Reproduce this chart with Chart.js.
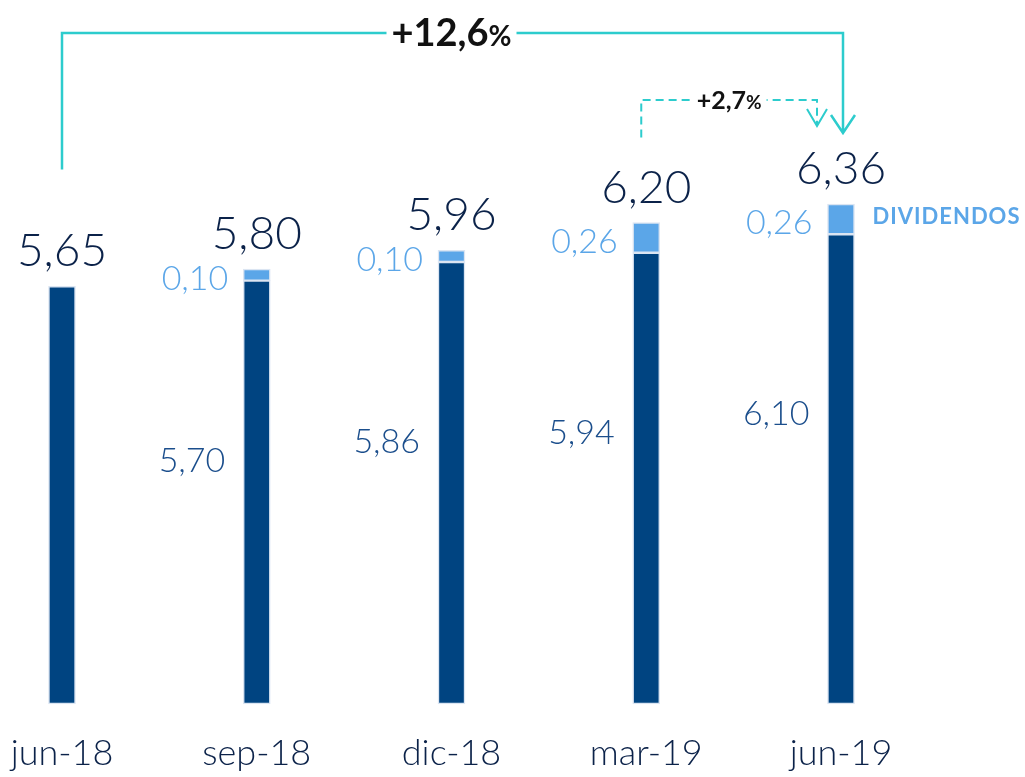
<!DOCTYPE html>
<html>
<head>
<meta charset="utf-8">
<script src="https://cdn.jsdelivr.net/npm/chart.js@4/dist/chart.umd.min.js"></script>
<style>
  html, body { margin: 0; padding: 0; background: #fff; }
  #wrap { width: 1025px; height: 777px; }
</style>
</head>
<body>
<div id="wrap"><canvas id="chart" width="1025" height="777"></canvas></div>
<script>
// datos
const trimestres = ['jun-18', 'sep-18', 'dic-18', 'mar-19', 'jun-19'];
const valorBase = [5.65, 5.70, 5.86, 5.94, 6.10];
const dividendos = [0, 0.10, 0.10, 0.26, 0.26];
const totales = [5.65, 5.80, 5.96, 6.20, 6.36];
const variacionAnual = '+12,6';
const variacionTrimestral = '+2,7';

const EJE_MIN = 2.05;
const EJE_MAX = 8.12;

const AZUL = '#004481';
const AZUL_CLARO = '#5BA6E8';
const TURQUESA = '#2DCCCD';
const NAVY = '#0B2249';
const FUENTE = 'Lato, "Open Sans", sans-serif';

const fmt = v => v.toFixed(2).replace('.', ',');

// etiquetas y flechas
const etiquetas = {
    id: 'etiquetas',
    afterDatasetsDraw(chart) {
        const ctx = chart.ctx;
        const x = chart.scales.x;
        const y = chart.scales.y;
        const mitad = 13.5;
        ctx.save();

        trimestres.forEach((t, i) => {
            const cx = x.getPixelForValue(i);
            const topTotal = y.getPixelForValue(totales[i]);
            const topBase = y.getPixelForValue(valorBase[i]);

            // total
            ctx.font = '300 46px ' + FUENTE;
            ctx.fillStyle = NAVY;
            ctx.textAlign = 'center';
            ctx.textBaseline = 'alphabetic';
            ctx.fillText(fmt(totales[i]), cx, topTotal - 20);

            if (dividendos[i] > 0) {
                // base
                ctx.font = '300 34px ' + FUENTE;
                ctx.fillStyle = '#1B4E8C';
                ctx.textAlign = 'right';
                ctx.textBaseline = 'middle';
                ctx.fillText(fmt(valorBase[i]), cx - mitad - 18, topBase + 180);

                // dividendo
                ctx.fillStyle = AZUL_CLARO;
                ctx.fillText(fmt(dividendos[i]), cx - mitad - 15, (topTotal + topBase) / 2 + 4);
            }
        });

        // leyenda dividendos
        const ult = trimestres.length - 1;
        const cxU = x.getPixelForValue(ult);
        ctx.font = 'bold 22px ' + FUENTE;
        ctx.fillStyle = AZUL_CLARO;
        ctx.textAlign = 'left';
        ctx.textBaseline = 'middle';
        if ('letterSpacing' in ctx) ctx.letterSpacing = '1px';
        ctx.fillText('DIVIDENDOS', cxU + mitad + 18, (y.getPixelForValue(totales[ult]) + y.getPixelForValue(valorBase[ult])) / 2 - 2);
        if ('letterSpacing' in ctx) ctx.letterSpacing = '0px';

        // flecha anual
        const x0 = x.getPixelForValue(0);
        const yIni = y.getPixelForValue(totales[0]) - 117;
        const yTope = 33;
        const yFin = y.getPixelForValue(totales[ult]) - 71;
        ctx.strokeStyle = TURQUESA;
        ctx.lineWidth = 2.5;
        ctx.setLineDash([]);
        ctx.beginPath();
        ctx.moveTo(x0, yIni);
        ctx.lineTo(x0, yTope);
        ctx.lineTo(cxU + 2, yTope);
        ctx.lineTo(cxU + 2, yFin);
        ctx.moveTo(cxU + 2 - 12, yFin - 18);
        ctx.lineTo(cxU + 2, yFin);
        ctx.lineTo(cxU + 2 + 12, yFin - 18);
        ctx.stroke();

        ctx.font = 'bold 38px ' + FUENTE;
        const w1 = ctx.measureText(variacionAnual).width;
        ctx.font = 'bold 28px ' + FUENTE;
        const w2 = ctx.measureText('%').width;
        const cxT = (x0 + cxU) / 2;
        const xt = cxT - (w1 + w2) / 2;
        ctx.fillStyle = '#fff';
        ctx.fillRect(xt - 5, yTope - 22, w1 + w2 + 10, 44);
        ctx.fillStyle = '#111';
        ctx.textAlign = 'left';
        ctx.textBaseline = 'alphabetic';
        ctx.font = 'bold 38px ' + FUENTE;
        ctx.fillText(variacionAnual, xt, yTope + 13);
        ctx.font = 'bold 28px ' + FUENTE;
        ctx.fillText('%', xt + w1, yTope + 13);

        // flecha trimestral
        const xm = x.getPixelForValue(ult - 1) - 5;
        const xj = cxU - 24;
        const ymIni = y.getPixelForValue(totales[ult - 1]) - 85;
        const ymTope = 100;
        const ymFin = y.getPixelForValue(totales[ult]) - 78;
        ctx.lineWidth = 2;
        ctx.setLineDash([8, 5]);
        ctx.beginPath();
        ctx.moveTo(xm, ymIni);
        ctx.lineTo(xm, ymTope);
        ctx.lineTo(xj, ymTope);
        ctx.lineTo(xj, ymFin);
        ctx.stroke();
        ctx.setLineDash([]);
        ctx.beginPath();
        ctx.moveTo(xj - 10, ymFin - 17);
        ctx.lineTo(xj, ymFin);
        ctx.lineTo(xj + 10, ymFin - 17);
        ctx.stroke();

        ctx.font = 'bold 25px ' + FUENTE;
        const w3 = ctx.measureText(variacionTrimestral).width;
        ctx.font = 'bold 19px ' + FUENTE;
        const w4 = ctx.measureText('%').width;
        const xt2 = (xm + xj) / 2 - (w3 + w4) / 2;
        ctx.fillStyle = '#fff';
        ctx.fillRect(xt2 - 5, ymTope - 15, w3 + w4 + 10, 30);
        ctx.fillStyle = '#111';
        ctx.font = 'bold 25px ' + FUENTE;
        ctx.fillText(variacionTrimestral, xt2, ymTope + 9);
        ctx.font = 'bold 19px ' + FUENTE;
        ctx.fillText('%', xt2 + w3, ymTope + 9);

        ctx.restore();
    }
};

new Chart(document.getElementById('chart'), {
    type: 'bar',
    data: {
        labels: trimestres,
        datasets: [
            { label: 'Valor', data: valorBase, base: EJE_MIN, backgroundColor: AZUL, borderColor: '#dbe5f2', borderWidth: 1.5, borderSkipped: false, barThickness: 27, clip: false },
            { label: 'Dividendos', data: dividendos, backgroundColor: AZUL_CLARO, borderColor: '#dbe5f2', borderWidth: 1.5, borderSkipped: false, barThickness: 27, clip: false }
        ]
    },
    options: {
        responsive: false,
        animation: false,
        layout: { padding: { left: 62, right: 184, top: 0, bottom: -26 } },
        plugins: { legend: { display: false }, tooltip: { enabled: false } },
        scales: {
            x: {
                stacked: true,
                offset: false,
                grid: { display: false, drawTicks: false },
                border: { display: false },
                ticks: { color: NAVY, font: { family: FUENTE, size: 36, weight: '300' }, padding: 28, maxRotation: 0, autoSkip: false },
                afterFit(scale) {
                    scale.paddingLeft = 0;
                    scale.paddingRight = 0;
                }
            },
            y: {
                stacked: true,
                display: false,
                min: EJE_MIN,
                max: EJE_MAX
            }
        }
    },
    plugins: [etiquetas]
});
</script>
</body>
</html>
